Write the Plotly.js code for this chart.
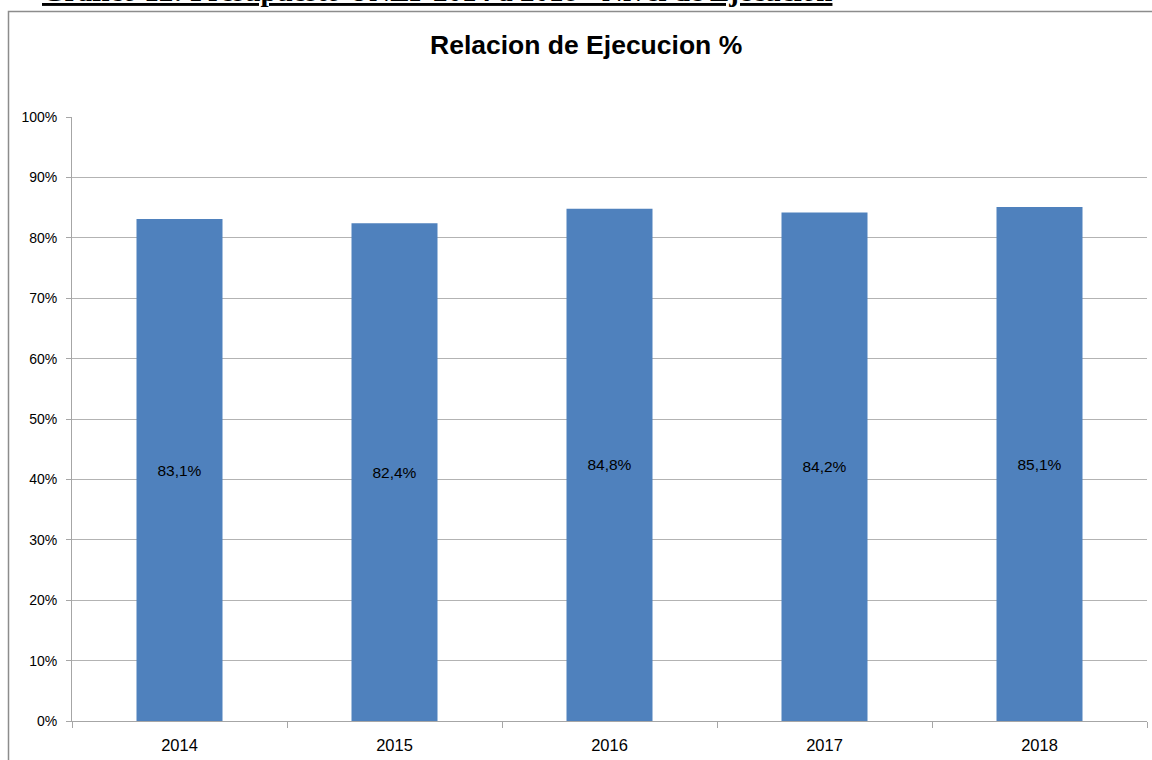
<!DOCTYPE html>
<html>
<head>
<meta charset="utf-8">
<script src="https://cdn.plot.ly/plotly-3.0.1.min.js"></script>
<style>
  html, body { margin: 0; padding: 0; background: #fff; }
  #chart { width: 1152px; height: 760px; }
</style>
</head>
<body>
<div id="chart"></div>
<script>
var years = ['2014', '2015', '2016', '2017', '2018'];
var ejecucion = [0.831, 0.824, 0.848, 0.842, 0.851];
var chartTitle = 'Relacion de Ejecucion %';
var headerText = 'Gráfico 12: Presupuesto UNLP 2014 a 2018 - Nivel de Ejecución';

var labels = ejecucion.map(function (v) {
  return (v * 100).toFixed(1).replace('.', ',') + '%';
});

var trace = {
  type: 'bar',
  x: years,
  y: ejecucion,
  text: labels,
  textposition: 'inside',
  insidetextanchor: 'middle',
  textangle: 0,
  textfont: { family: 'Liberation Sans, Arial, sans-serif', size: 15.5, color: '#000' },
  marker: { color: '#4f81bd', line: { width: 0 } },
  width: 0.4,
  hoverinfo: 'none'
};

var L = 72, R = 5, T = 117, B = 39, W = 1152, H = 760;
var pw = W - L - R, ph = H - T - B;
function px2x(p) { return (p - L) / pw; }
function py2y(p) { return (H - B - p) / ph; }

var layout = {
  width: W,
  height: H,
  margin: { l: L, r: R, t: T, b: B, pad: 0 },
  paper_bgcolor: '#fff',
  plot_bgcolor: '#fff',
  font: { family: 'Liberation Sans, Arial, sans-serif', size: 13, color: '#000' },
  showlegend: false,
  bargap: 0.6,
  xaxis: {
    type: 'category',
    showgrid: false,
    showline: true,
    linecolor: '#a6a6a6',
    linewidth: 1,
    ticks: 'outside',
    tickson: 'boundaries',
    ticklen: 6,
    tickcolor: '#a6a6a6',
    ticklabelstandoff: 9,
    tickfont: { size: 16.5, color: '#000' },
    fixedrange: true
  },
  yaxis: {
    range: [0, 1],
    dtick: 0.1,
    tick0: 0,
    tickformat: '.0%',
    showgrid: true,
    gridcolor: '#b3b3b3',
    gridwidth: 1,
    zeroline: false,
    showline: true,
    linecolor: '#a6a6a6',
    linewidth: 1,
    ticks: 'outside',
    ticklen: 5,
    tickcolor: '#a6a6a6',
    ticklabelstandoff: 6,
    tickfont: { size: 14, color: '#000' },
    fixedrange: true
  },
  annotations: [
    {
      text: '<b>' + chartTitle + '</b>',
      xref: 'paper', yref: 'paper',
      x: px2x(586), y: py2y(45),
      xanchor: 'center', yanchor: 'middle',
      showarrow: false,
      font: { family: 'Liberation Sans, Arial, sans-serif', size: 26.5, color: '#000' }
    },
    {
      text: '<b><u>' + headerText + '</u></b>',
      xref: 'paper', yref: 'paper',
      x: px2x(40), y: py2y(9),
      xanchor: 'left', yanchor: 'bottom',
      showarrow: false,
      font: { family: 'Liberation Serif, Times New Roman, serif', size: 29, color: '#000' }
    }
  ],
  shapes: [
    {
      type: 'rect', xref: 'paper', yref: 'paper',
      x0: px2x(8.5), x1: px2x(1170), y0: py2y(790), y1: py2y(11.5),
      line: { color: '#8c8c8c', width: 1.5 },
      fillcolor: 'rgba(0,0,0,0)',
      layer: 'below'
    }
  ]
};

Plotly.newPlot('chart', [trace], layout, { displayModeBar: false, staticPlot: true });
</script>
</body>
</html>
